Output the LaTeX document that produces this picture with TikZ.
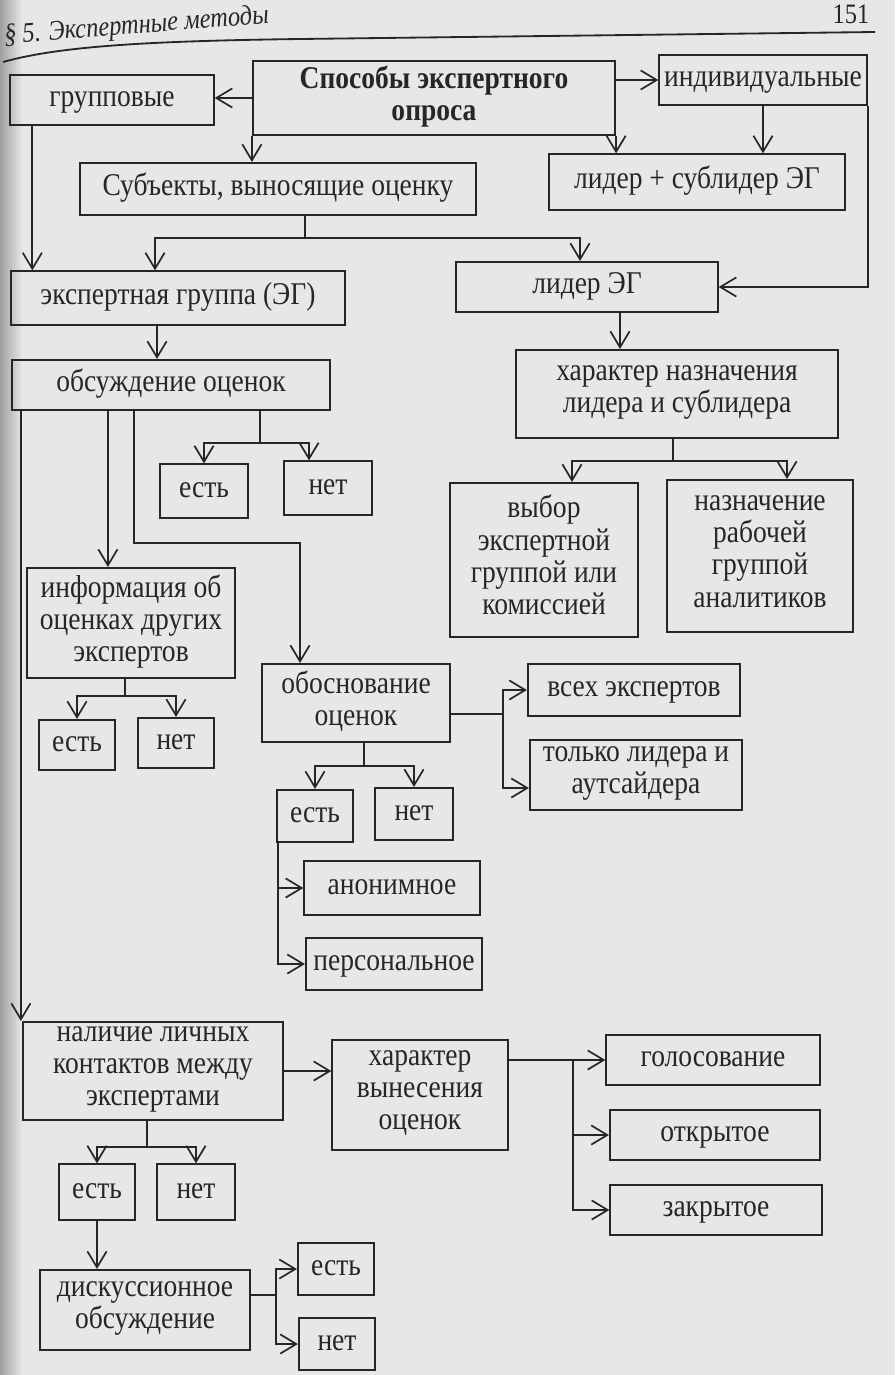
\documentclass[tikz,border=0pt]{standalone}
\usepackage{fontspec}
\setmainfont[FakeStretch=0.87]{Liberation Serif}
\usetikzlibrary{shapes.geometric, arrows, positioning, calc, arrows.meta}
\definecolor{colorPage}{RGB}{231, 231, 229}
\definecolor{colorEdge}{RGB}{160, 160, 158}
\definecolor{colorInk}{RGB}{38, 38, 38}
\tikzstyle{process} = [rectangle, minimum height=1.25cm, text centered, align=center, text=colorInk, draw=colorInk, line width=1.5pt, inner sep=2pt, execute at begin node=\strut, execute at end node=\strut]
\tikzstyle{title} = [process, font=\fontsize{22.5}{23}\selectfont\bfseries]
\tikzstyle{arrow} = [line width=1.2pt, color=colorInk, -{Straight Barb[length=4mm, width=4.8mm]}]
\tikzstyle{link} = [line width=1.2pt, color=colorInk]

\begin{document}
\begin{tikzpicture}[x=0.025cm, y=-0.025cm, font=\fontsize{22.5}{23}\selectfont]

		% page
		\fill[colorPage] (0,0) rectangle (895,1375);
		\shade[left color=colorEdge, right color=colorPage] (0,0) rectangle (22,1375);
		\useasboundingbox (0,0) rectangle (895,1375);

		% header
		\node (hTitle)[anchor=south west, rotate=4.5, inner sep=0pt, text=colorInk, font=\fontsize{20}{22}\selectfont\itshape] at (5,50) {§ 5. Экспертные методы};
		\node (hPage)[text=colorInk, font=\fontsize{20}{22}\selectfont] at (851,14) {151};
		\draw[line width=1.3pt, colorInk] (3,62) .. controls (60,46) and (150,41) .. (300,39) -- (875,32);

		% top
		\node (pGroup)[process, minimum width=5.08cm] at (112,100) {групповые};
		\node (pSposoby)[title, minimum width=9.05cm, minimum height=1.83cm] at (434,98) {Способы экспертного\\опроса};
		\node (pIndiv)[process, minimum width=5.18cm] at (763,80) {индивидуальные};
		\node (pSubj)[process, minimum width=9.88cm, minimum height=1.3cm] at (278,189) {Субъекты, выносящие оценку};
		\node (pLiderSub)[process, minimum width=7.38cm, minimum height=1.38cm] at (697,182) {лидер + сублидер ЭГ};
		\node (pExpGroup)[process, minimum width=8.33cm, minimum height=1.33cm] at (178,298) {экспертная группа (ЭГ)};
		\node (pLider)[process, minimum width=6.53cm] at (587,287) {лидер ЭГ};

		% leader branch
		\node (pHarNazn)[process, minimum width=8.05cm, minimum height=2.2cm] at (677,394) {характер назначения\\лидера и сублидера};
		\node (pVybor)[process, minimum width=4.68cm, minimum height=3.85cm] at (544,560) {выбор\\экспертной\\группой или\\комиссией};
		\node (pNazn)[process, minimum width=4.65cm, minimum height=3.8cm] at (760,556) {назначение\\рабочей\\группой\\аналитиков};

		% discussion branch
		\node (pObsuzhd)[process, minimum width=7.95cm] at (171,385) {обсуждение оценок};
		\node (pEst1)[process, minimum width=2.2cm, minimum height=1.33cm] at (204,491) {есть};
		\node (pNet1)[process, minimum width=2.18cm, minimum height=1.33cm] at (328,488) {нет};
		\node (pInfo)[process, minimum width=5.2cm, minimum height=2.75cm] at (131,623) {информация об\\оценках других\\экспертов};
		\node (pEst2)[process, minimum width=1.88cm] at (77,745) {есть};
		\node (pNet2)[process, minimum width=1.9cm] at (176,743) {нет};
		\node (pObosn)[process, minimum width=4.68cm, minimum height=1.95cm] at (356,703) {обоснование\\оценок};
		\node (pVseh)[process, minimum width=5.3cm, minimum height=1.3cm] at (634,690) {всех экспертов};
		\node (pTolko)[process, minimum width=5.3cm, minimum height=1.75cm] at (636,775) {только лидера и\\аутсайдера};
		\node (pEst3)[process, minimum width=1.88cm, minimum height=1.3cm] at (315,816) {есть};
		\node (pNet3)[process, minimum width=1.95cm, minimum height=1.3cm] at (414,814) {нет};
		\node (pAnon)[process, minimum width=4.38cm, minimum height=1.33cm] at (392,888) {анонимное};
		\node (pPers)[process, minimum width=4.4cm, minimum height=1.3cm] at (394,964) {персональное};

		% contacts branch
		\node (pNalich)[process, minimum width=6.5cm, minimum height=2.45cm] at (153,1071) {наличие личных\\контактов между\\экспертами};
		\node (pHarVyn)[process, minimum width=4.38cm, minimum height=2.75cm] at (420,1095) {характер\\вынесения\\оценок};
		\node (pGolos)[process, minimum width=5.33cm] at (713,1060) {голосование};
		\node (pOtkr)[process, minimum width=5.25cm] at (715,1135) {открытое};
		\node (pZakr)[process, minimum width=5.28cm] at (716,1210) {закрытое};
		\node (pEst4)[process, minimum width=1.88cm, minimum height=1.38cm] at (97,1192) {есть};
		\node (pNet4)[process, minimum width=1.93cm, minimum height=1.38cm] at (196,1192) {нет};
		\node (pDiskus)[process, minimum width=5.25cm, minimum height=2cm] at (145,1310) {дискуссионное\\обсуждение};
		\node (pEst5)[process, minimum width=1.9cm, minimum height=1.3cm] at (336,1269) {есть};
		\node (pNet5)[process, minimum width=1.9cm, minimum height=1.3cm] at (337,1344) {нет};

		% bends
		\coordinate (dummy1) at ($(pGroup.south west)+(23,0)$);
		\coordinate (dummy2) at ($(pSubj.south)+(27,22)$);
		\coordinate (dummy3) at ($(pExpGroup.south)+(-21,0)$);
		\coordinate (dummy4) at ($(pLider.south)+(33,0)$);
		\coordinate (dummy5) at ($(pHarNazn.south)+(-4,22)$);
		\coordinate (dummy6) at ($(pObsuzhd.south)+(89,32)$);
		\coordinate (dummy7) at ($(pObsuzhd.south west)+(97,0)$);
		\coordinate (dummy8) at ($(pObsuzhd.south west)+(123,0)$);
		\coordinate (dummy9) at ($(pObosn.north)+(-56,-120)$);
		\coordinate (dummy10) at ($(pObsuzhd.south west)+(10,0)$);
		\coordinate (dummy11) at ($(pInfo.south)+(-6,17)$);
		\coordinate (dummy12) at ($(pObosn.east)+(52,11)$);
		\coordinate (dummy13) at ($(pObosn.south)+(8,23)$);
		\coordinate (dummy14) at ($(pEst3.south west)+(2,0)$);
		\coordinate (dummy15) at ($(pHarVyn.east |- pGolos.west)+(64,0)$);
		\coordinate (dummy16) at ($(pNalich.south)+(-6,26)$);
		\coordinate (dummy17) at ($(pDiskus.east)+(25,-15)$);

		% lines and arrows
		\draw[arrow](pSposoby.west) -- (pSposoby.west -| pGroup.east);
		\draw[arrow](pSposoby.east |- pIndiv.west) -- (pIndiv.west);
		\draw[arrow](pSposoby.south west) -- (pSposoby.south west |- pSubj.north);
		\draw[arrow](pSposoby.south east) -- (pSposoby.south east |- pLiderSub.north);
		\draw[arrow](pIndiv.south) -- (pIndiv.south |- pLiderSub.north);
		\draw[arrow](pIndiv.south east) |- (pLider.east);

		\draw[arrow](dummy1) -- (dummy1 |- pExpGroup.north);
		\draw[link](pSubj.south -| dummy2) -- (dummy2);
		\draw[arrow](dummy2) -| ($(pExpGroup.north)+(-23,0)$);
		\draw[arrow](dummy2) -| ($(pLider.north)+(-7,0)$);

		\draw[arrow](dummy3) -- (dummy3 |- pObsuzhd.north);
		\draw[arrow](dummy4) -- (dummy4 |- pHarNazn.north);
		\draw[link](pHarNazn.south -| dummy5) -- (dummy5);
		\draw[arrow](dummy5) -| ($(pVybor.north)+(28,0)$);
		\draw[arrow](dummy5) -| ($(pNazn.north)+(27,0)$);

		\draw[link](pObsuzhd.south -| dummy6) -- (dummy6);
		\draw[arrow](dummy6) -| (pEst1.north);
		\draw[arrow](dummy6) -| ($(pNet1.north)+(-19,0)$);
		\draw[arrow](dummy7) -- (dummy7 |- pInfo.north);
		\draw[arrow](dummy8) |- (dummy9) -- (dummy9 |- pObosn.north);
		\draw[arrow](dummy10) -- (dummy10 |- pNalich.north);

		\draw[link](pInfo.south -| dummy11) -- (dummy11);
		\draw[arrow](dummy11) -| (pEst2.north);
		\draw[arrow](dummy11) -| (pNet2.north);

		\draw[link](pObosn.east |- dummy12) -- (dummy12);
		\draw[arrow](dummy12) |- (pVseh.west);
		\draw[arrow](dummy12) |- ($(pTolko.west)+(0,13)$);
		\draw[link](pObosn.south -| dummy13) -- (dummy13);
		\draw[arrow](dummy13) -| (pEst3.north);
		\draw[arrow](dummy13) -| (pNet3.north);
		\draw[arrow](dummy14) |- (pAnon.west);
		\draw[arrow](dummy14) |- (pPers.west);

		\draw[arrow](pNalich.east) -- (pNalich.east -| pHarVyn.west);
		\draw[arrow](pHarVyn.east |- pGolos.west) -- (pGolos.west);
		\draw[arrow](dummy15) |- (pOtkr.west);
		\draw[arrow](dummy15) |- (pZakr.west);

		\draw[link](pNalich.south -| dummy16) -- (dummy16);
		\draw[arrow](dummy16) -| (pEst4.north);
		\draw[arrow](dummy16) -| (pNet4.north);
		\draw[arrow](pEst4.south) -- (pEst4.south |- pDiskus.north);

		\draw[link](pDiskus.east |- dummy17) -- (dummy17);
		\draw[arrow](dummy17) |- (pEst5.west);
		\draw[arrow](dummy17) |- (pNet5.west);

	\end{tikzpicture}
\end{document}
